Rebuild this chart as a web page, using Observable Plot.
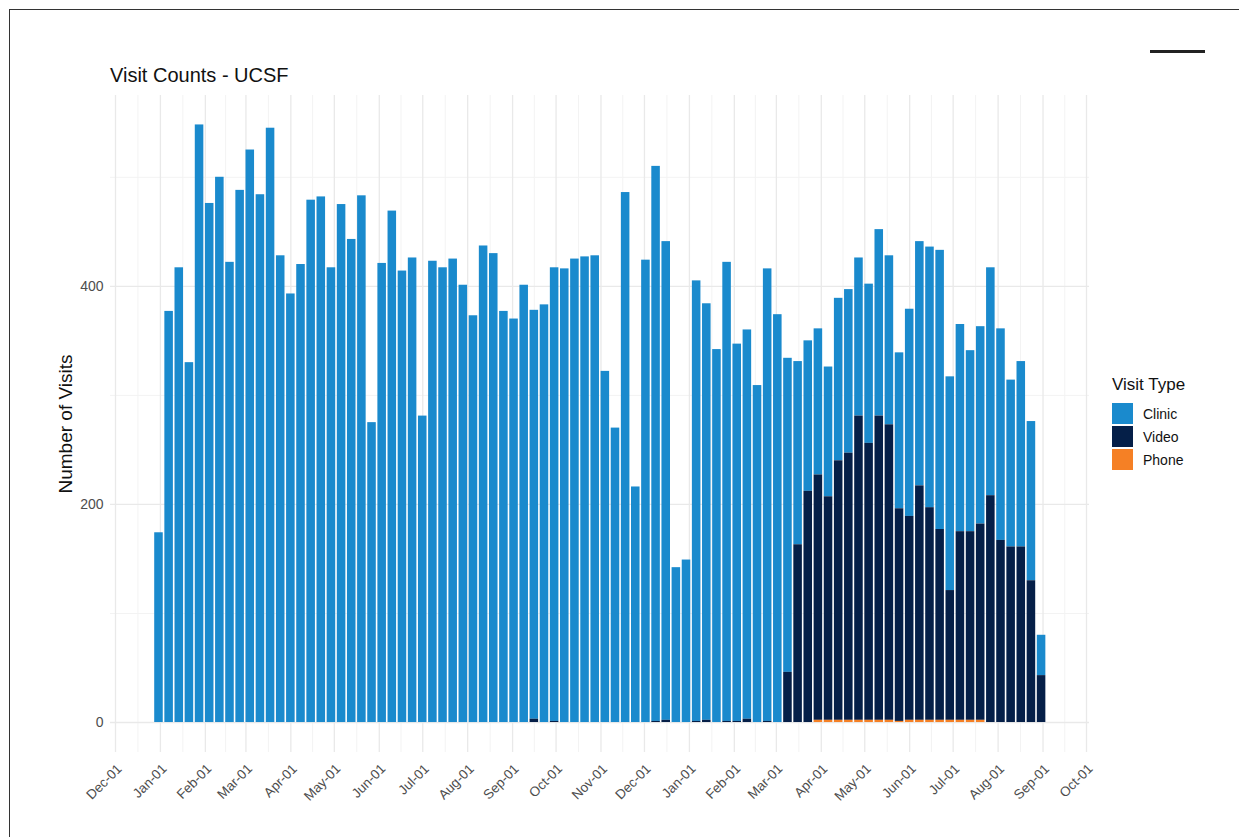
<!DOCTYPE html>
<html>
<head>
<meta charset="utf-8">
<script src="https://cdn.jsdelivr.net/npm/d3@7"></script>
<script src="https://cdn.jsdelivr.net/npm/@observablehq/plot@0.6"></script>
<style>
  html, body { margin: 0; padding: 0; background: #fff; }
  body { width: 1239px; height: 837px; overflow: hidden; position: relative; font-family: "Liberation Sans", Arial, Helvetica, sans-serif; }
  #frame { position: absolute; left: 8.5px; top: 8.5px; width: 1300px; height: 900px; border-top: 1.5px solid #333; border-left: 1.5px solid #333; }
  #dash { position: absolute; left: 1150px; top: 50px; width: 55px; height: 3px; background: #222; }
  #title { position: absolute; left: 110px; top: 64px; font-size: 20px; color: #111; white-space: nowrap; }
  #chart { position: absolute; left: 0; top: 0; }
  #legend { position: absolute; left: 1112px; top: 375px; color: #111; }
  #legend .lt { font-size: 17px; margin-bottom: 7px; }
  #legend .row { display: flex; align-items: center; height: 23px; }
  #legend .sw { width: 21px; height: 21px; margin-right: 10px; }
  #legend .lb { font-size: 14px; }
</style>
</head>
<body>
<div id="frame"></div>
<div id="dash"></div>
<div id="chart"></div>
<div id="title">Visit Counts - UCSF</div>
<div id="legend"></div>
<script>
// ---- Data (weekly, weeks centred on Mondays starting 2018-12-31) ----
const firstWeek = "2018-12-31";
const weekCount = 88;

const totalVisits = [
  174, 377, 417, 330, 548, 476, 500, 422, 488, 525,
  484, 545, 428, 393, 420, 479, 482, 417, 475, 443,
  483, 275, 421, 469, 414, 426, 281, 423, 417, 425,
  401, 373, 437, 430, 377, 370, 401, 378, 383, 417,
  416, 425, 427, 428, 322, 270, 486, 216, 424, 510,
  441, 142, 149, 405, 384, 342, 422, 347, 360, 309,
  416, 374, 334, 331, 350, 361, 326, 389, 397, 426,
  402, 452, 428, 339, 379, 441, 436, 433, 317, 365,
  341, 363, 417, 361, 314, 331, 276, 80
];

const videoVisits = [
  0, 0, 0, 0, 0, 0, 0, 0, 0, 0,
  0, 0, 0, 0, 0, 0, 0, 0, 0, 0,
  0, 0, 0, 0, 0, 0, 0, 0, 0, 0,
  0, 0, 0, 0, 0, 0, 0, 3, 0, 1,
  0, 0, 0, 0, 0, 0, 0, 0, 0, 1,
  2, 0, 0, 1, 2, 0, 1, 1, 3, 0,
  1, 0, 46, 163, 212, 225, 205, 238, 245, 279,
  254, 279, 271, 195, 187, 215, 195, 175, 119, 173,
  173, 180, 208, 167, 161, 161, 130, 43
];

const phoneVisits = [
  0, 0, 0, 0, 0, 0, 0, 0, 0, 0,
  0, 0, 0, 0, 0, 0, 0, 0, 0, 0,
  0, 0, 0, 0, 0, 0, 0, 0, 0, 0,
  0, 0, 0, 0, 0, 0, 0, 0, 0, 0,
  0, 0, 0, 0, 0, 0, 0, 0, 0, 0,
  0, 0, 0, 0, 0, 0, 0, 0, 0, 0,
  0, 0, 0, 0, 0, 2, 2, 2, 2, 2,
  2, 2, 2, 1, 2, 2, 2, 2, 2, 2,
  2, 2, 0, 0, 0, 0, 0, 0
];

const visitTypes = ["Clinic", "Video", "Phone"];
const typeColors = ["#1A8ACD", "#051F48", "#F58025"];
const yTicks = [0, 200, 400];
const yMinor = [100, 300, 500];

// ---- Build table ----
const DAY = 864e5;
const start = new Date(firstWeek + "T00:00:00Z");
const weeks = d3.utcMonday.range(start, d3.utcMonday.offset(start, weekCount));
const rows = [];
weeks.forEach((d, i) => {
  const x1 = new Date(+d - 3.5 * DAY), x2 = new Date(+d + 3.5 * DAY);
  const phone = phoneVisits[i], video = videoVisits[i];
  const clinic = totalVisits[i] - video - phone;
  rows.push({x1, x2, type: "Clinic", n: clinic});
  rows.push({x1, x2, type: "Video", n: video});
  rows.push({x1, x2, type: "Phone", n: phone});
});

// ---- Scales ----
const pxPerDay = 971 / 670;
const tickStart = new Date(Date.UTC(2018, 11, 1));
const tickEnd = new Date(Date.UTC(2020, 9, 1));
const xDomain = [new Date(+tickStart - (5 / pxPerDay) * DAY), new Date(+tickEnd + (3 / pxPerDay) * DAY)];
const monthTicks = d3.utcMonth.range(tickStart, new Date(+tickEnd + DAY));
const monthMinor = monthTicks.slice(0, -1).map((d, i) => new Date((+d + +monthTicks[i + 1]) / 2));

const chart = Plot.plot({
  width: 1239,
  height: 837,
  marginLeft: 110,
  marginRight: 150,
  marginTop: 95,
  marginBottom: 85,
  x: {type: "utc", domain: xDomain},
  y: {domain: [-27.5, 575]},
  color: {domain: visitTypes, range: typeColors},
  style: {fontFamily: '"Liberation Sans", Arial, Helvetica, sans-serif', background: "transparent", overflow: "visible"},
  marks: [
    Plot.gridY(yMinor, {stroke: "#f3f3f3", strokeOpacity: 1, strokeWidth: 1}),
    Plot.gridX(monthMinor, {stroke: "#f3f3f3", strokeOpacity: 1, strokeWidth: 1}),
    Plot.gridY(yTicks, {stroke: "#e9e9e9", strokeOpacity: 1, strokeWidth: 1.3}),
    Plot.gridX(monthTicks, {stroke: "#e9e9e9", strokeOpacity: 1, strokeWidth: 1.3}),
    Plot.axisY(yTicks, {tickSize: 0, tickPadding: 7, fontSize: 14, fill: "#4d4d4d", label: null}),
    Plot.axisX(monthTicks, {tickSize: 0, tickPadding: 14, dx: 4, tickRotate: -45, fontSize: 13.5, fill: "#4d4d4d", tickFormat: d3.utcFormat("%b-%d"), label: null}),
    Plot.text(["Number of Visits"], {frameAnchor: "left", textAnchor: "middle", lineAnchor: "middle", dx: -45, rotate: -90, fontSize: 19, fill: "#111"}),
    Plot.rectY(rows, {x1: "x1", x2: "x2", y: "n", fill: "type", order: ["Phone", "Video", "Clinic"], insetLeft: 0.8, insetRight: 0.8})
  ]
});
document.getElementById("chart").appendChild(chart);

// ---- Legend ----
const legend = document.getElementById("legend");
legend.innerHTML = '<div class="lt">Visit Type</div>' +
  visitTypes.map((t, i) => `<div class="row"><div class="sw" style="background:${typeColors[i]}"></div><div class="lb">${t}</div></div>`).join("");
</script>
</body>
</html>
